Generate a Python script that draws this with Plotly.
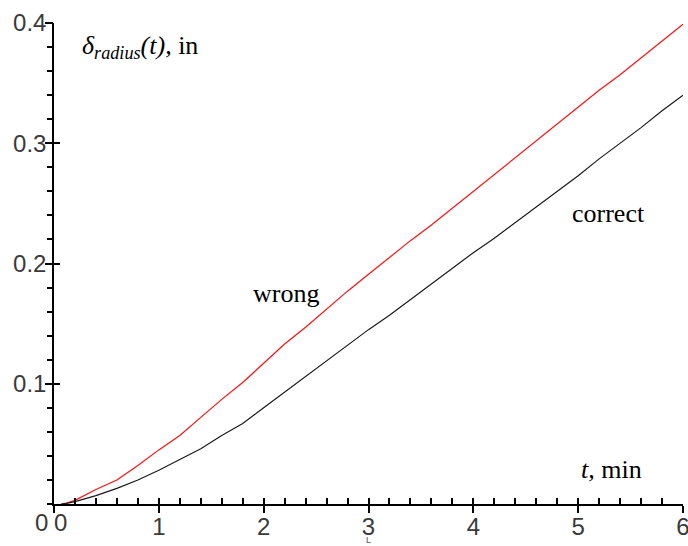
import plotly.graph_objects as go

# ---- data ----
t_vals = [0.07, 0.12, 0.2, 0.4, 0.6, 0.8, 1.0, 1.2, 1.4, 1.6, 1.8, 2.0, 2.2, 2.4, 2.6,
          2.8, 3.0, 3.2, 3.4, 3.6, 3.8, 4.0, 4.2, 4.4, 4.6, 4.8, 5.0, 5.2, 5.4,
          5.6, 5.8, 6.0]
wrong_vals = [0.0, 0.0008, 0.003, 0.012, 0.020, 0.032, 0.045, 0.057, 0.072, 0.087,
              0.101, 0.117, 0.133, 0.147, 0.162, 0.177, 0.191, 0.205, 0.219, 0.232,
              0.246, 0.260, 0.274, 0.288, 0.302, 0.316, 0.330, 0.344, 0.357, 0.371,
              0.385, 0.399]
correct_vals = [0.0, 0.0005, 0.002, 0.007, 0.013, 0.020, 0.028, 0.037, 0.046, 0.057,
                0.067, 0.080, 0.093, 0.106, 0.119, 0.132, 0.145, 0.157, 0.170, 0.183,
                0.196, 0.209, 0.221, 0.234, 0.247, 0.260, 0.273, 0.287, 0.300, 0.313,
                0.327, 0.340]
x_ticks = [0, 1, 2, 3, 4, 5, 6]
x_tick_text = ["", "1", "2", "3", "4", "5", "6"]
y_ticks = [0.1, 0.2, 0.3, 0.4]
y_tick_text = ["0.1", "0.2", "0.3", "0.4"]

TICKFONT = dict(family="Liberation Sans, Arial, sans-serif", size=24, color="#3a3a3a")
TEXTFONT = dict(family="Liberation Serif, Times New Roman, serif", size=26, color="black")

fig = go.Figure()
fig.add_trace(go.Scatter(x=t_vals, y=wrong_vals, mode="lines",
                         line=dict(color="#ff1010", width=1.2), showlegend=False))
fig.add_trace(go.Scatter(x=t_vals, y=correct_vals, mode="lines",
                         line=dict(color="#1a1a1a", width=1.2), showlegend=False))
# invisible traces so the overlay tick axes are drawn
for ax in ("2", "3"):
    fig.add_trace(go.Scatter(x=[0], y=[0], xaxis="x" + ax, yaxis="y" + ax, mode="markers",
                             marker=dict(opacity=0), showlegend=False, hoverinfo="skip"))

common = dict(showgrid=False, zeroline=False, automargin=False)

fig.update_layout(
    width=688, height=546,
    margin=dict(l=54, r=5, t=23, b=42, autoexpand=False),
    paper_bgcolor="white", plot_bgcolor="white",
    # main axes: line, labels, major ticks outside
    xaxis=dict(range=[0, 6], showline=True, linecolor="black", linewidth=1.5,
               tickmode="array", tickvals=x_ticks, ticktext=x_tick_text,
               ticks="outside", ticklen=7, tickwidth=2, tickcolor="black",
               tickfont=TICKFONT, ticklabeloverflow="allow", ticklabelstandoff=-7,
               **common),
    yaxis=dict(range=[0, 0.4], showline=True, linecolor="black", linewidth=1.5,
               tickmode="array", tickvals=y_ticks, ticktext=y_tick_text,
               ticks="outside", ticklen=7, tickwidth=2, tickcolor="black",
               tickfont=TICKFONT, ticklabelstandoff=-6, **common),
    # overlay: major ticks on the inner side (so they cross the axis)
    xaxis2=dict(range=[0, 6], overlaying="x", anchor="y", side="bottom", showline=False,
                tickmode="array", tickvals=x_ticks, showticklabels=False,
                ticks="inside", ticklen=6, tickwidth=2, tickcolor="black", **common),
    yaxis2=dict(range=[0, 0.4], overlaying="y", anchor="x", side="left", showline=False,
                tickmode="array", tickvals=y_ticks, showticklabels=False,
                ticks="inside", ticklen=6, tickwidth=2, tickcolor="black", **common),
    # overlay: minor ticks
    xaxis3=dict(range=[0, 6], overlaying="x", anchor="y3", side="bottom", showline=False,
                tickmode="linear", tick0=0, dtick=0.2, showticklabels=False,
                ticks="inside", ticklen=6, tickwidth=1.5, tickcolor="black", **common),
    yaxis3=dict(range=[0, 0.4], overlaying="y", anchor="x3", side="left", showline=False,
                tickmode="linear", tick0=0, dtick=0.02, showticklabels=False,
                ticks="outside", ticklen=6, tickwidth=1.5, tickcolor="black", **common),
)

ann = [
    dict(x=0, y=0, xref="x", yref="y", text="0", showarrow=False,
         font=TICKFONT, xanchor="center", yanchor="middle", xshift=-13, yshift=-18),
    dict(x=0, y=0, xref="x", yref="y", text="0", showarrow=False,
         font=TICKFONT, xanchor="center", yanchor="middle", xshift=6, yshift=-18),
    dict(x=0.25, y=0.380, xref="x", yref="y",
         text="<i>δ</i><sub><i>radius</i></sub><i>(t),</i> in", showarrow=False,
         font=TEXTFONT, xanchor="left", yanchor="middle"),
    dict(x=2.21, y=0.175, xref="x", yref="y", text="wrong", showarrow=False,
         font=TEXTFONT, xanchor="center", yanchor="middle"),
    dict(x=5.29, y=0.242, xref="x", yref="y", text="correct", showarrow=False,
         font=TEXTFONT, xanchor="center", yanchor="middle"),
    dict(x=5.32, y=0.029, xref="x", yref="y", text="<i>t,</i> min", showarrow=False,
         font=TEXTFONT, xanchor="center", yanchor="middle"),
    dict(x=3, y=0, xref="x", yref="y", text="L", showarrow=False,
         font=dict(family="Liberation Sans, Arial, sans-serif", size=9, color="#555"),
         xanchor="center", yanchor="middle", yshift=-36),
]
fig.update_layout(annotations=ann)

fig.write_html("out.html", config={"displayModeBar": False},
               post_script="document.body.style.margin='0';document.body.style.padding='0';")
